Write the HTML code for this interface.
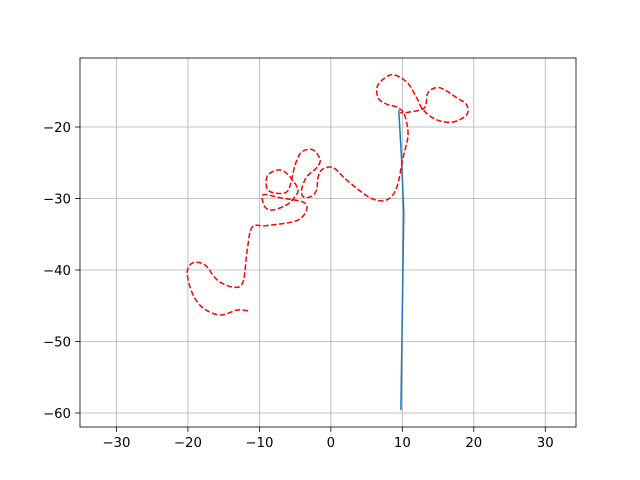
<!DOCTYPE html>
<html><head><meta charset="utf-8"><style>body{margin:0;background:#fff}svg{display:block;font-family:"DejaVu Sans","Liberation Sans",sans-serif}</style></head>
<body>
<svg id="chart" width="640" height="480" xmlns="http://www.w3.org/2000/svg"></svg>
<script>
const xTicks=[-30,-20,-10,0,10,20,30];
const yTicks=[-20,-30,-40,-50,-60];
const blueX=[9.5,9.9,10.2,9.8];
const blueY=[-17.6,-24.6,-32,-59.6];
const redX=[-11.6,-13.1,-15.5,-17.9,-19.4,-20.1,-19.3,-17.6,-15.9,-13.7,-12.3,-11.7,-11.0,-9.0,-4.8,-3.4,-3.9,-7.1,-9.5,-9.2,-8.1,-6.2,-5.3,-4.6,-5.7,-7.1,-8.8,-9.0,-8.1,-6.2,-5.5,-5.0,-4.1,-2.5,-1.5,-2.0,-3.4,-4.1,-3.8,-2.7,-2.0,-1.8,-1.3,-0.1,0.8,2.2,5.5,7.8,9.2,10.1,10.8,10.3,9.4,7.8,6.6,6.6,8.5,10.6,12.0,12.9,14.8,17.1,19.0,19.0,17.6,15.2,13.6,13.1,11.0,9.7];
const redY=[-45.7,-45.6,-46.3,-45.3,-43.2,-40.3,-39.0,-39.3,-41.4,-42.4,-41.7,-37.2,-34.0,-33.8,-33.1,-31.6,-30.5,-29.9,-29.5,-31.2,-31.6,-30.9,-30.1,-28.8,-27.0,-26.0,-26.7,-28.4,-29.2,-29.1,-27.4,-25.3,-23.5,-23.2,-24.6,-25.7,-27.0,-28.8,-29.8,-29.7,-28.8,-27.1,-26.0,-25.6,-26.0,-27.4,-29.9,-30.2,-28.5,-24.3,-21.1,-18.3,-17.3,-16.8,-15.9,-14.1,-12.7,-13.7,-15.9,-17.6,-19.0,-19.3,-18.3,-16.9,-15.9,-14.5,-15.2,-17.3,-17.9,-18.0];
const L=80,R=576,T=58,B=427,xmin=-35.1,xmax=34.3,ymin=-61.96,ymax=-10.35;
const sx=v=>L+(v-xmin)/(xmax-xmin)*(R-L);
const sy=v=>B-(v-ymin)/(ymax-ymin)*(B-T);
const svg=document.getElementById('chart');const NS='http://www.w3.org/2000/svg';
function mk(t,a,p){const e=document.createElementNS(NS,t);for(const k in a)e.setAttribute(k,a[k]);(p||svg).appendChild(e);return e;}
function smooth(xs,ys){const P=xs.map((v,i)=>[sx(v),sy(ys[i])]);let d='M'+P[0][0]+','+P[0][1];
for(let i=0;i<P.length-1;i++){const p0=P[Math.max(i-1,0)],p1=P[i],p2=P[i+1],p3=P[Math.min(i+2,P.length-1)];
d+=' C'+(p1[0]+(p2[0]-p0[0])/6)+','+(p1[1]+(p2[1]-p0[1])/6)+' '+(p2[0]-(p3[0]-p1[0])/6)+','+(p2[1]-(p3[1]-p1[1])/6)+' '+p2[0]+','+p2[1];}return d;}
xTicks.forEach(v=>{const x=sx(v);
const g=mk('line',{x1:x,x2:x,y1:T,y2:B,stroke:'#b0b0b0','stroke-width':0.8});


mk('line',{x1:x,x2:x,y1:B,y2:B+4.9,stroke:'#000','stroke-width':0.8});
const t=mk('text',{x:x,y:B+20,'text-anchor':'middle','font-size':13.3});t.textContent=(v<0?'\u2212'+(-v):v);

});
yTicks.forEach(v=>{const y=sy(v);
const g=mk('line',{x1:L,x2:R,y1:y,y2:y,stroke:'#b0b0b0','stroke-width':0.8});


mk('line',{x1:L-4.9,x2:L,y1:y,y2:y,stroke:'#000','stroke-width':0.8});
const t=mk('text',{x:L-9,y:y+5,'text-anchor':'end','font-size':13.3});t.textContent='\u2212'+(-v);

});
const bl=mk('polyline',{points:blueX.map((v,i)=>sx(v)+','+sy(blueY[i])).join(' '),fill:'none',stroke:'#1f77b4','stroke-width':1.5});


const rl=mk('path',{d:smooth(redX,redY),fill:'none',stroke:'#ff0000','stroke-width':1.5,'stroke-dasharray':'5.5,2.4','stroke-linejoin':'round'});


const fr=mk('rect',{x:L,y:T,width:R-L,height:B-T,fill:'none',stroke:'#000','stroke-width':0.8});


</script>
</body></html>
